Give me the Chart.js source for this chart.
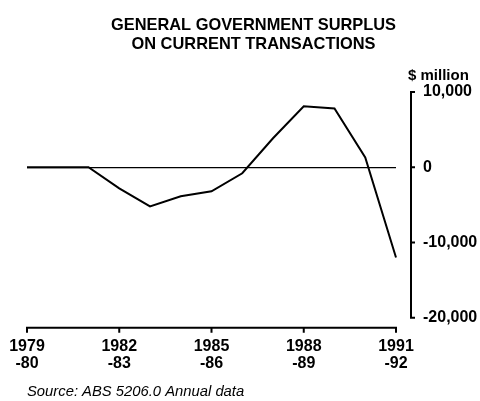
<!DOCTYPE html>
<html>
<head>
<meta charset="utf-8">
<title>General government surplus</title>
<script src="https://cdn.jsdelivr.net/npm/chart.js@4"></script>
<style>
  html, body { margin: 0; padding: 0; background: #fff; }
  #wrap { width: 480px; height: 401px; position: relative; }
</style>
</head>
<body>
<div id="wrap"><canvas id="surplusChart"></canvas></div>
<script>
// Financial years, one point per year
const years = [
  "1979-80", "1980-81", "1981-82", "1982-83", "1983-84", "1984-85", "1985-86",
  "1986-87", "1987-88", "1988-89", "1989-90", "1990-91", "1991-92"
];
// Surplus on current transactions, $ million
const surplus = [0, 0, 0, -2800, -5200, -3850, -3200, -800, 3850, 8100, 7800, 1300, -12000];

// Labelled years on the bottom axis (two-line labels)
const tickYears = ["1979", "1982", "1985", "1988", "1991"];
const tickYearEnds = ["-80", "-83", "-86", "-89", "-92"];
const yTicks = [10000, 0, -10000, -20000];

const FONT = "'Liberation Sans', Arial, Helvetica, sans-serif";
Chart.defaults.font.family = FONT;
Chart.defaults.color = "#000";

// Axes are drawn detached from the plot: vertical one to the right, horizontal one below
const detachedAxes = {
  id: "detachedAxes",
  afterDraw(chart) {
    const { ctx, chartArea, scales: { x, y } } = chart;
    ctx.save();
    ctx.strokeStyle = "#000";
    ctx.lineWidth = 2;

    const ax = chartArea.right + 15;
    const top = y.getPixelForValue(yTicks[0]);
    const bottom = y.getPixelForValue(yTicks[yTicks.length - 1]);
    ctx.beginPath();
    ctx.moveTo(ax, top);
    ctx.lineTo(ax, bottom);
    yTicks.forEach(v => {
      const py = y.getPixelForValue(v);
      ctx.moveTo(ax - 1, py);
      ctx.lineTo(ax + 4, py);
    });
    ctx.stroke();

    const ay = chartArea.bottom + 10;
    ctx.beginPath();
    ctx.moveTo(x.getPixelForValue(0), ay);
    ctx.lineTo(x.getPixelForValue(years.length - 1), ay);
    years.forEach((yr, i) => {
      if (tickYears.includes(yr.slice(0, 4))) {
        const px = x.getPixelForValue(i);
        ctx.moveTo(px, ay - 1);
        ctx.lineTo(px, ay + 5);
      }
    });
    ctx.stroke();

    ctx.font = "bold 15px " + FONT;
    ctx.fillStyle = "#000";
    ctx.textAlign = "left";
    ctx.textBaseline = "middle";
    ctx.fillText("$ million", ax - 3, top - 16);
    ctx.restore();
  }
};

new Chart(document.getElementById("surplusChart"), {
  type: "line",
  data: {
    labels: years,
    datasets: [{
      data: surplus,
      borderColor: "#000",
      borderWidth: 2,
      pointRadius: 0,
      tension: 0,
      fill: false
    }]
  },
  options: {
    responsive: true,
    maintainAspectRatio: false,
    animation: false,
    layout: { padding: { left: 27, right: 0, top: 0, bottom: 0 } },
    plugins: {
      legend: { display: false },
      tooltip: { enabled: false },
      title: {
        display: true,
        text: ["GENERAL GOVERNMENT SURPLUS", "ON CURRENT TRANSACTIONS"],
        color: "#000",
        font: { size: 16.4, weight: "bold", lineHeight: 1.15 },
        padding: { top: 16, bottom: 38.3 }
      },
      subtitle: {
        display: true,
        position: "bottom",
        align: "start",
        text: "Source: ABS 5206.0 Annual data",
        color: "#000",
        font: { size: 14.8, style: "italic", lineHeight: 1.2 },
        padding: { top: 6, bottom: 0.6 }
      }
    },
    scales: {
      x: {
        type: "category",
        offset: false,
        grid: { display: false },
        border: { display: false },
        afterFit: s => {
          s.height = 59;
          // end labels may hang past the plot edge
          s.paddingLeft = 0;
          s.paddingRight = 0;
        },
        ticks: {
          autoSkip: false,
          maxRotation: 0,
          padding: 12,
          font: { size: 16, weight: "bold", lineHeight: 1.08 },
          callback: function (value) {
            const i = tickYears.indexOf(this.getLabelForValue(value).slice(0, 4));
            return i >= 0 ? [tickYears[i], tickYearEnds[i]] : "";
          }
        }
      },
      y: {
        position: "right",
        min: -20000,
        max: 10000,
        afterFit: s => { s.width = 84; },
        border: { display: false },
        grid: {
          drawTicks: false,
          lineWidth: 1.3,
          color: c => (c.tick && c.tick.value === 0 ? "#000" : "rgba(0,0,0,0)")
        },
        ticks: {
          stepSize: 10000,
          padding: 27,
          font: { size: 16, weight: "bold" },
          callback: v => v.toLocaleString("en-US")
        }
      }
    }
  },
  plugins: [detachedAxes]
});
</script>
</body>
</html>
